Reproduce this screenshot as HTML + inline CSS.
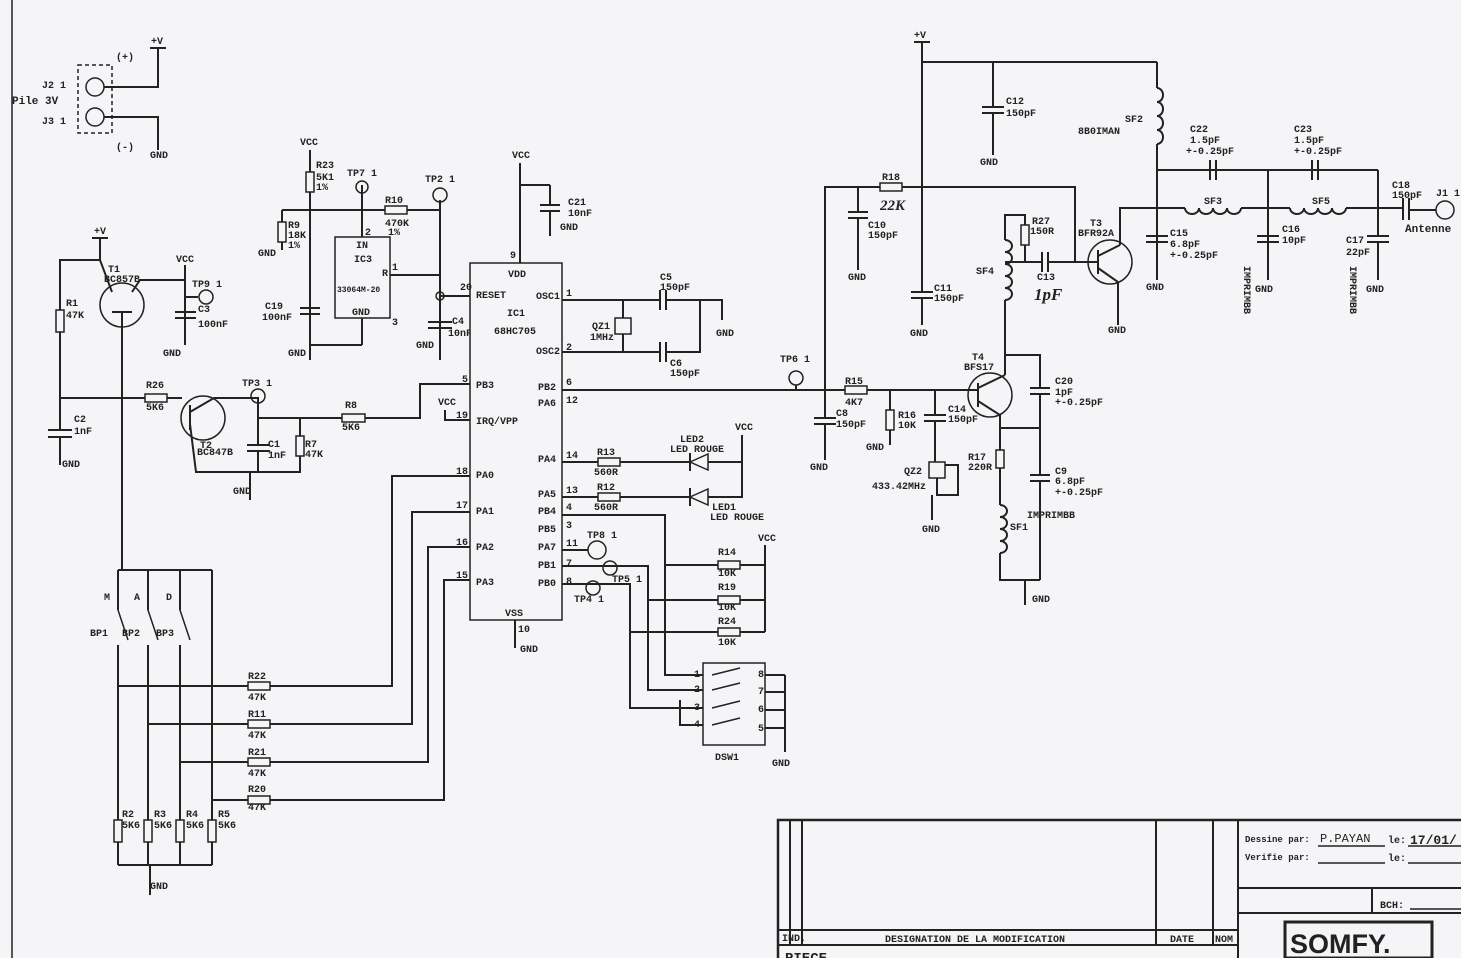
<!DOCTYPE html>
<html><head><meta charset="utf-8"><style>
html,body{margin:0;padding:0;background:#f5f5f7;}
svg{display:block}
text{font-family:"Liberation Mono",monospace;font-weight:bold;font-size:10px;fill:#222}
.l{stroke:#222;stroke-width:2;fill:none}
.t{stroke:#222;stroke-width:1.5;fill:none}
.f{fill:#f5f5f7;stroke:#222;stroke-width:1.5}
</style></head><body>
<svg width="1461" height="958" viewBox="0 0 1461 958" xmlns="http://www.w3.org/2000/svg">
<rect width="1461" height="958" fill="#f5f5f7"/>
<line class="t" x1="12" y1="0" x2="12" y2="958"/>

<!-- battery -->
<rect x="78" y="65" width="34" height="68" fill="none" stroke="#222" stroke-width="1.5" stroke-dasharray="4,3"/>
<circle class="t" cx="95" cy="87" r="9"/><circle class="t" cx="95" cy="117" r="9"/>
<polyline class="l" points="104,87 158,87 158,48"/><polyline class="l" points="104,117 158,117 158,150"/>
<line class="l" x1="150" y1="48" x2="166" y2="48"/>
<text x="151" y="44">+V</text><text x="116" y="60">(+)</text><text x="116" y="150">(-)</text>
<text x="42" y="88">J2 1</text><text x="12" y="104" style="font-size:11px">Pile 3V</text><text x="42" y="124">J3 1</text>
<text x="150" y="158">GND</text>

<!-- T1 area -->
<text x="94" y="234">+V</text><line class="l" x1="92" y1="238" x2="108" y2="238"/>
<polyline class="l" points="100,238 100,260 60,260 60,430"/>
<rect class="f" x="56" y="310" width="8" height="22"/><text x="66" y="306">R1</text><text x="66" y="318">47K</text>
<line class="l" x1="60" y1="398" x2="145" y2="398"/>
<rect class="f" x="145" y="394" width="22" height="8"/><text x="146" y="388">R26</text><text x="146" y="410">5K6</text>
<line class="l" x1="167" y1="398" x2="182" y2="398"/>
<line class="l" x1="48" y1="430" x2="72" y2="430"/><line class="l" x1="48" y1="437" x2="72" y2="437"/><line class="l" x1="60" y1="437" x2="60" y2="465"/>
<text x="74" y="422">C2</text><text x="74" y="434">1nF</text><text x="62" y="467">GND</text>
<circle class="t" cx="122" cy="305" r="22"/><text x="108" y="272">T1</text><text x="104" y="282">BC857B</text>
<polyline class="l" points="100,260 112,292"/><polyline class="l" points="132,292 140,280 185,280"/><line class="l" x1="112" y1="312" x2="132" y2="312"/>
<line class="l" x1="122" y1="312" x2="122" y2="570"/>
<text x="176" y="262">VCC</text><line class="l" x1="185" y1="265" x2="185" y2="345"/>
<line class="l" x1="185" y1="297" x2="198" y2="297"/><circle class="t" cx="206" cy="297" r="7"/><text x="192" y="287">TP9 1</text>
<line class="l" x1="175" y1="312" x2="196" y2="312"/><line class="l" x1="175" y1="318" x2="196" y2="318"/>
<text x="198" y="312">C3</text><text x="198" y="327">100nF</text><text x="163" y="356">GND</text>

<!-- T2 -->
<circle class="t" cx="203" cy="418" r="22"/><text x="200" y="448">T2</text><text x="197" y="455">BC847B</text>
<line class="l" x1="190" y1="405" x2="190" y2="430"/><polyline class="l" points="190,412 214,398 258,398 258,418 342,418"/>
<polyline class="l" points="190,424 196,472 300,472 300,455"/>
<circle class="t" cx="258" cy="396" r="7"/><text x="242" y="386">TP3 1</text>
<line class="l" x1="258" y1="418" x2="258" y2="445"/><line class="l" x1="247" y1="445" x2="270" y2="445"/><line class="l" x1="247" y1="451" x2="270" y2="451"/><line class="l" x1="258" y1="451" x2="258" y2="472"/>
<text x="268" y="447">C1</text><text x="268" y="458">1nF</text>
<line class="l" x1="300" y1="418" x2="300" y2="436"/><rect class="f" x="296" y="436" width="8" height="20"/><text x="305" y="447">R7</text><text x="305" y="457">47K</text>
<line class="l" x1="250" y1="472" x2="250" y2="500"/><text x="233" y="494">GND</text>
<rect class="f" x="342" y="414" width="23" height="8"/><text x="345" y="408">R8</text><text x="342" y="430">5K6</text>
<polyline class="l" points="365,418 420,418 420,384 470,384"/>

<!-- IC3 region -->
<text x="300" y="145">VCC</text><line class="l" x1="310" y1="150" x2="310" y2="360"/>
<rect class="f" x="306" y="172" width="8" height="20"/><text x="316" y="168">R23</text><text x="316" y="180">5K1</text><text x="316" y="190">1%</text>
<line class="l" x1="282" y1="210" x2="362" y2="210"/>
<line class="l" x1="282" y1="210" x2="282" y2="250"/><rect class="f" x="278" y="222" width="8" height="20"/><text x="288" y="228">R9</text><text x="288" y="238">18K</text><text x="288" y="248">1%</text>
<text x="258" y="256">GND</text>
<line class="l" x1="362" y1="185" x2="362" y2="237"/><circle class="t" cx="362" cy="187" r="6"/><text x="347" y="176">TP7 1</text>
<line class="l" x1="362" y1="210" x2="385" y2="210"/><rect class="f" x="385" y="206" width="22" height="8"/><text x="385" y="203">R10</text><text x="385" y="226">470K</text><text x="388" y="235">1%</text>
<line class="l" x1="407" y1="210" x2="440" y2="210"/>
<rect class="f" x="335" y="237" width="55" height="81"/>
<text x="356" y="248">IN</text><text x="354" y="262">IC3</text><text x="337" y="292" style="font-size:8px">33064M-20</text><text x="352" y="315">GND</text>
<text x="365" y="235">2</text><text x="392" y="270">1</text><text x="392" y="325">3</text>
<text x="382" y="276">R</text>
<polyline class="l" points="390,275 440,275"/>
<line class="l" x1="440" y1="200" x2="440" y2="360"/><circle class="t" cx="440" cy="195" r="7"/><text x="425" y="182">TP2 1</text>
<line class="l" x1="440" y1="296" x2="470" y2="296"/><circle class="t" cx="440" cy="296" r="4"/>
<line class="l" x1="428" y1="322" x2="452" y2="322"/><line class="l" x1="428" y1="328" x2="452" y2="328"/>
<text x="452" y="324">C4</text><text x="448" y="336">10nF</text><text x="416" y="348">GND</text>
<line class="l" x1="362" y1="318" x2="362" y2="345"/><line class="l" x1="310" y1="345" x2="362" y2="345"/>
<line class="l" x1="300" y1="308" x2="320" y2="308"/><line class="l" x1="300" y1="314" x2="320" y2="314"/>
<text x="265" y="309">C19</text><text x="262" y="320">100nF</text><text x="288" y="356">GND</text>

<!-- IC1 -->
<text x="512" y="158">VCC</text><line class="l" x1="520" y1="163" x2="520" y2="263"/>
<line class="l" x1="520" y1="185" x2="550" y2="185"/><line class="l" x1="550" y1="185" x2="550" y2="205"/>
<line class="l" x1="540" y1="205" x2="560" y2="205"/><line class="l" x1="540" y1="211" x2="560" y2="211"/><line class="l" x1="550" y1="211" x2="550" y2="236"/>
<text x="568" y="205">C21</text><text x="568" y="216">10nF</text><text x="560" y="230">GND</text>
<rect class="f" x="470" y="263" width="92" height="357"/>
<text x="510" y="258">9</text><text x="508" y="277">VDD</text><text x="507" y="316">IC1</text><text x="494" y="334">68HC705</text>
<text x="460" y="290">20</text><text x="476" y="298">RESET</text>
<text x="462" y="382">5</text><text x="476" y="388">PB3</text>
<text x="456" y="418">19</text><text x="476" y="424">IRQ/VPP</text>
<text x="438" y="405">VCC</text><polyline class="l" points="445,410 445,420 470,420"/>
<text x="456" y="474">18</text><text x="476" y="478">PA0</text>
<text x="456" y="508">17</text><text x="476" y="514">PA1</text>
<text x="456" y="545">16</text><text x="476" y="550">PA2</text>
<text x="456" y="578">15</text><text x="476" y="585">PA3</text>
<text x="505" y="616">VSS</text><text x="518" y="632">10</text>
<line class="l" x1="515" y1="620" x2="515" y2="648"/><text x="520" y="652">GND</text>
<text x="536" y="299">OSC1</text><text x="566" y="296">1</text>
<text x="536" y="354">OSC2</text><text x="566" y="350">2</text>
<text x="538" y="390">PB2</text><text x="566" y="385">6</text>
<text x="538" y="406">PA6</text><text x="566" y="403">12</text>
<text x="538" y="462">PA4</text><text x="566" y="458">14</text>
<text x="538" y="497">PA5</text><text x="566" y="493">13</text>
<text x="538" y="514">PB4</text><text x="566" y="510">4</text>
<text x="538" y="532">PB5</text><text x="566" y="528">3</text>
<text x="538" y="550">PA7</text><text x="566" y="546">11</text>
<text x="538" y="568">PB1</text><text x="566" y="566">7</text>
<text x="538" y="586">PB0</text><text x="566" y="584">8</text>
<!-- osc -->
<polyline class="l" points="562,300 660,300"/><polyline class="l" points="562,352 660,352"/>
<line class="l" x1="623" y1="300" x2="623" y2="318"/><rect class="f" x="615" y="318" width="16" height="16"/><line class="l" x1="623" y1="334" x2="623" y2="352"/>
<text x="592" y="329">QZ1</text><text x="590" y="340">1MHz</text>
<line class="l" x1="660" y1="290" x2="660" y2="310"/><line class="l" x1="666" y1="290" x2="666" y2="310"/>
<line class="l" x1="660" y1="342" x2="660" y2="362"/><line class="l" x1="666" y1="342" x2="666" y2="362"/>
<polyline class="l" points="666,300 722,300 722,320"/><polyline class="l" points="666,352 700,352 700,300"/>
<text x="660" y="280">C5</text><text x="660" y="290">150pF</text><text x="670" y="366">C6</text><text x="670" y="376">150pF</text><text x="716" y="336">GND</text>
<!-- PB2 line -->
<line class="l" x1="562" y1="390" x2="968" y2="390"/>
<!-- LEDs -->
<line class="l" x1="562" y1="462" x2="598" y2="462"/><rect class="f" x="598" y="458" width="22" height="8"/><line class="l" x1="620" y1="462" x2="690" y2="462"/>
<line class="l" x1="562" y1="497" x2="598" y2="497"/><rect class="f" x="598" y="493" width="22" height="8"/><line class="l" x1="620" y1="497" x2="690" y2="497"/>
<text x="597" y="455">R13</text><text x="594" y="475">560R</text><text x="597" y="490">R12</text><text x="594" y="510">560R</text>
<polygon class="f" points="690,462 708,454 708,470"/><line class="l" x1="690" y1="453" x2="690" y2="471"/>
<polygon class="f" points="690,497 708,489 708,505"/><line class="l" x1="690" y1="488" x2="690" y2="506"/>
<polyline class="l" points="708,462 742,462 742,435"/><polyline class="l" points="708,497 742,497 742,462"/>
<text x="735" y="430">VCC</text><text x="680" y="442">LED2</text><text x="670" y="452">LED ROUGE</text><text x="712" y="510">LED1</text><text x="710" y="520">LED ROUGE</text>
<!-- PB4, PB1, PB0 -->
<polyline class="l" points="562,515 665,515 665,565 718,565"/>
<circle class="t" cx="597" cy="550" r="9"/><text x="587" y="538">TP8 1</text><line class="l" x1="562" y1="550" x2="588" y2="550"/>
<polyline class="l" points="562,566 648,566 648,600 718,600"/><circle class="t" cx="610" cy="568" r="7"/><text x="612" y="582">TP5 1</text>
<polyline class="l" points="562,584 630,584 630,632 718,632"/><circle class="t" cx="593" cy="588" r="7"/><text x="574" y="602">TP4 1</text>
<rect class="f" x="718" y="561" width="22" height="8"/><rect class="f" x="718" y="596" width="22" height="8"/><rect class="f" x="718" y="628" width="22" height="8"/>
<text x="718" y="555">R14</text><text x="718" y="576">10K</text><text x="718" y="590">R19</text><text x="718" y="610">10K</text><text x="718" y="624">R24</text><text x="718" y="645">10K</text>
<polyline class="l" points="740,565 765,565"/><polyline class="l" points="740,600 765,600"/><polyline class="l" points="740,632 765,632"/>
<line class="l" x1="765" y1="545" x2="765" y2="632"/><text x="758" y="541">VCC</text>
<!-- DSW -->
<rect class="f" x="703" y="663" width="62" height="82"/>
<polyline class="l" points="665,565 665,675 703,675"/><polyline class="l" points="648,600 648,690 703,690"/><polyline class="l" points="630,632 630,708 703,708"/>
<text x="694" y="677">1</text><text x="694" y="692">2</text><text x="694" y="710">3</text><text x="694" y="727">4</text>
<text x="758" y="677">8</text><text x="758" y="694">7</text><text x="758" y="712">6</text><text x="758" y="731">5</text>
<polyline class="l" points="703,725 680,725 680,700"/>
<polyline class="t" points="712,675 740,668"/><polyline class="t" points="712,690 740,683"/><polyline class="t" points="712,708 740,701"/><polyline class="t" points="712,725 740,718"/>
<line class="l" x1="765" y1="675" x2="785" y2="675"/><line class="l" x1="765" y1="692" x2="785" y2="692"/><line class="l" x1="765" y1="710" x2="785" y2="710"/><line class="l" x1="765" y1="728" x2="785" y2="728"/>
<line class="l" x1="785" y1="675" x2="785" y2="752"/><text x="715" y="760">DSW1</text><text x="772" y="766">GND</text>

<!-- switches + resistors left -->
<line class="l" x1="118" y1="570" x2="212" y2="570"/>
<line class="l" x1="118" y1="570" x2="118" y2="610"/><line class="l" x1="148" y1="570" x2="148" y2="610"/><line class="l" x1="180" y1="570" x2="180" y2="610"/>
<line class="t" x1="118" y1="610" x2="128" y2="640"/><line class="t" x1="148" y1="610" x2="158" y2="640"/><line class="t" x1="180" y1="610" x2="190" y2="640"/>
<text x="104" y="600">M</text><text x="134" y="600">A</text><text x="166" y="600">D</text>
<text x="90" y="636">BP1</text><text x="122" y="636">BP2</text><text x="156" y="636">BP3</text>
<line class="l" x1="118" y1="645" x2="118" y2="820"/><line class="l" x1="148" y1="645" x2="148" y2="820"/><line class="l" x1="180" y1="645" x2="180" y2="820"/><line class="l" x1="212" y1="570" x2="212" y2="820"/>
<rect class="f" x="114" y="820" width="8" height="22"/><rect class="f" x="144" y="820" width="8" height="22"/><rect class="f" x="176" y="820" width="8" height="22"/><rect class="f" x="208" y="820" width="8" height="22"/>
<text x="122" y="817">R2</text><text x="122" y="828">5K6</text><text x="154" y="817">R3</text><text x="154" y="828">5K6</text><text x="186" y="817">R4</text><text x="186" y="828">5K6</text><text x="218" y="817">R5</text><text x="218" y="828">5K6</text>
<line class="l" x1="118" y1="842" x2="118" y2="865"/><line class="l" x1="148" y1="842" x2="148" y2="865"/><line class="l" x1="180" y1="842" x2="180" y2="865"/><line class="l" x1="212" y1="842" x2="212" y2="865"/>
<line class="l" x1="118" y1="865" x2="212" y2="865"/><line class="l" x1="150" y1="865" x2="150" y2="895"/><text x="150" y="889">GND</text>
<polyline class="l" points="118,686 248,686"/><rect class="f" x="248" y="682" width="22" height="8"/><polyline class="l" points="270,686 392,686 392,476 470,476"/>
<polyline class="l" points="148,724 248,724"/><rect class="f" x="248" y="720" width="22" height="8"/><polyline class="l" points="270,724 412,724 412,512 470,512"/>
<polyline class="l" points="180,762 248,762"/><rect class="f" x="248" y="758" width="22" height="8"/><polyline class="l" points="270,762 428,762 428,547 470,547"/>
<polyline class="l" points="212,800 248,800"/><rect class="f" x="248" y="796" width="22" height="8"/><polyline class="l" points="270,800 444,800 444,580 470,580"/>
<text x="248" y="679">R22</text><text x="248" y="700">47K</text><text x="248" y="717">R11</text><text x="248" y="738">47K</text><text x="248" y="755">R21</text><text x="248" y="776">47K</text><text x="248" y="792">R20</text><text x="248" y="810">47K</text>

<!-- RF section -->
<text x="914" y="38">+V</text><line class="l" x1="914" y1="42" x2="930" y2="42"/>
<line class="l" x1="922" y1="42" x2="922" y2="292"/>
<line class="l" x1="922" y1="62" x2="1157" y2="62"/>
<line class="l" x1="993" y1="62" x2="993" y2="107"/><line class="l" x1="982" y1="107" x2="1004" y2="107"/><line class="l" x1="982" y1="113" x2="1004" y2="113"/><line class="l" x1="993" y1="113" x2="993" y2="155"/>
<text x="1006" y="104">C12</text><text x="1006" y="116">150pF</text><text x="980" y="165">GND</text>
<line class="l" x1="1157" y1="62" x2="1157" y2="88"/>
<path class="l" d="M1157 88 a6 7 0 0 1 0 14 a6 7 0 0 1 0 14 a6 7 0 0 1 0 14 a6 7 0 0 1 0 14"/>
<line class="l" x1="1157" y1="144" x2="1157" y2="280"/>
<text x="1125" y="122">SF2</text><text x="1078" y="134">8B0IMAN</text>
<line class="l" x1="1157" y1="170" x2="1378" y2="170"/>
<line class="l" x1="1210" y1="160" x2="1210" y2="180"/><line class="l" x1="1216" y1="160" x2="1216" y2="180"/>
<line class="l" x1="1312" y1="160" x2="1312" y2="180"/><line class="l" x1="1318" y1="160" x2="1318" y2="180"/>
<text x="1190" y="132">C22</text><text x="1190" y="143">1.5pF</text><text x="1186" y="154">+-0.25pF</text>
<text x="1294" y="132">C23</text><text x="1294" y="143">1.5pF</text><text x="1294" y="154">+-0.25pF</text>
<polyline class="l" points="1120,245 1120,208 1185,208"/>
<path class="l" d="M1185 208 a7 6 0 0 0 14 0 a7 6 0 0 0 14 0 a7 6 0 0 0 14 0 a7 6 0 0 0 14 0"/>
<line class="l" x1="1241" y1="208" x2="1290" y2="208"/>
<path class="l" d="M1290 208 a7 6 0 0 0 14 0 a7 6 0 0 0 14 0 a7 6 0 0 0 14 0 a7 6 0 0 0 14 0"/>
<line class="l" x1="1346" y1="208" x2="1403" y2="208"/>
<line class="l" x1="1403" y1="198" x2="1403" y2="220"/><line class="l" x1="1409" y1="198" x2="1409" y2="220"/><line class="l" x1="1409" y1="210" x2="1436" y2="210"/>
<circle class="t" cx="1445" cy="210" r="9"/>
<text x="1204" y="204">SF3</text><text x="1312" y="204">SF5</text>
<text x="1392" y="188">C18</text><text x="1392" y="198">150pF</text><text x="1436" y="196">J1 1</text><text x="1405" y="232" style="font-size:11px">Antenne</text>
<line class="l" x1="1268" y1="170" x2="1268" y2="280"/><line class="l" x1="1378" y1="170" x2="1378" y2="235"/>
<line class="l" x1="1146" y1="236" x2="1168" y2="236"/><line class="l" x1="1146" y1="242" x2="1168" y2="242"/>
<line class="l" x1="1257" y1="236" x2="1279" y2="236"/><line class="l" x1="1257" y1="242" x2="1279" y2="242"/>
<line class="l" x1="1367" y1="236" x2="1389" y2="236"/><line class="l" x1="1367" y1="242" x2="1389" y2="242"/><line class="l" x1="1378" y1="242" x2="1378" y2="280"/>
<text x="1170" y="236">C15</text><text x="1170" y="247">6.8pF</text><text x="1170" y="258">+-0.25pF</text>
<text x="1282" y="232">C16</text><text x="1282" y="243">10pF</text><text x="1346" y="243">C17</text><text x="1346" y="255">22pF</text>
<text x="1146" y="290">GND</text><text x="1255" y="292">GND</text><text x="1366" y="292">GND</text>
<text x="1232" y="238" transform="rotate(90 1224 258)">IMPRIMBB</text><text x="1338" y="238" transform="rotate(90 1330 258)">IMPRIMBB</text>
<!-- T3 -->
<circle class="t" cx="1110" cy="262" r="22"/><text x="1090" y="226">T3</text><text x="1078" y="236">BFR92A</text>
<line class="l" x1="1098" y1="250" x2="1098" y2="274"/><line class="l" x1="1075" y1="262" x2="1098" y2="262"/>
<polyline class="l" points="1098,256 1120,245"/><polyline class="l" points="1098,268 1118,282 1118,325"/><text x="1108" y="333">GND</text>
<polyline class="l" points="825,390 825,187 880,187"/><rect class="f" x="880" y="183" width="22" height="8"/><polyline class="l" points="902,187 1075,187 1075,262"/>
<text x="882" y="180">R18</text><text x="880" y="210" style="font-size:15px;font-family:'Liberation Serif',serif;font-style:italic">22K</text>
<line class="l" x1="858" y1="187" x2="858" y2="212"/><line class="l" x1="848" y1="212" x2="868" y2="212"/><line class="l" x1="848" y1="218" x2="868" y2="218"/><line class="l" x1="858" y1="218" x2="858" y2="270"/>
<text x="868" y="228">C10</text><text x="868" y="238">150pF</text><text x="848" y="280">GND</text>
<line class="l" x1="911" y1="292" x2="933" y2="292"/><line class="l" x1="911" y1="298" x2="933" y2="298"/><line class="l" x1="922" y1="298" x2="922" y2="325"/>
<text x="934" y="291">C11</text><text x="934" y="301">150pF</text><text x="910" y="336">GND</text>
<polyline class="l" points="1005,240 1005,215 1025,215 1025,225"/><rect class="f" x="1021" y="225" width="8" height="20"/><polyline class="l" points="1025,245 1025,262"/>
<text x="1032" y="224">R27</text><text x="1030" y="234">150R</text>
<path class="l" d="M1005 240 a7 6 0 0 1 0 12 a7 6 0 0 1 0 12 a7 6 0 0 1 0 12 a7 6 0 0 1 0 12 a7 6 0 0 1 0 12"/>
<text x="976" y="274">SF4</text>
<line class="l" x1="1005" y1="262" x2="1042" y2="262"/><line class="l" x1="1042" y1="252" x2="1042" y2="272"/><line class="l" x1="1048" y1="252" x2="1048" y2="272"/><line class="l" x1="1048" y1="262" x2="1075" y2="262"/>
<text x="1037" y="280">C13</text><text x="1034" y="300" style="font-size:17px;font-family:'Liberation Serif',serif;font-style:italic">1pF</text>
<line class="l" x1="1005" y1="300" x2="1005" y2="375"/>
<!-- T4 -->
<circle class="t" cx="990" cy="395" r="22"/><text x="972" y="360">T4</text><text x="964" y="370">BFS17</text>
<line class="l" x1="978" y1="383" x2="978" y2="407"/><line class="l" x1="968" y1="390" x2="978" y2="390"/>
<polyline class="l" points="978,388 1005,375"/><polyline class="l" points="978,401 1000,415 1000,450"/>
<polyline class="l" points="1005,355 1040,355 1040,388"/><line class="l" x1="1030" y1="388" x2="1050" y2="388"/><line class="l" x1="1030" y1="394" x2="1050" y2="394"/><line class="l" x1="1040" y1="394" x2="1040" y2="475"/>
<text x="1055" y="384">C20</text><text x="1055" y="395">1pF</text><text x="1055" y="405">+-0.25pF</text>
<line class="l" x1="1000" y1="428" x2="1040" y2="428"/>
<rect class="f" x="996" y="450" width="8" height="18"/><text x="968" y="460">R17</text><text x="968" y="470">220R</text>
<line class="l" x1="1030" y1="475" x2="1050" y2="475"/><line class="l" x1="1030" y1="481" x2="1050" y2="481"/><line class="l" x1="1040" y1="481" x2="1040" y2="580"/>
<text x="1055" y="474">C9</text><text x="1055" y="484">6.8pF</text><text x="1055" y="495">+-0.25pF</text><text x="1027" y="518">IMPRIMBB</text>
<line class="l" x1="1000" y1="468" x2="1000" y2="505"/>
<path class="l" d="M1000 505 a7 6 0 0 1 0 12 a7 6 0 0 1 0 12 a7 6 0 0 1 0 12 a7 6 0 0 1 0 12"/>
<text x="1010" y="530">SF1</text>
<polyline class="l" points="1000,553 1000,580 1040,580"/><line class="l" x1="1025" y1="580" x2="1025" y2="605"/><text x="1032" y="602">GND</text>
<line class="l" x1="845" y1="386" x2="845" y2="386"/><rect class="f" x="845" y="386" width="22" height="8"/>
<text x="845" y="384">R15</text><text x="845" y="405">4K7</text>
<line class="l" x1="825" y1="390" x2="825" y2="418"/><line class="l" x1="814" y1="418" x2="836" y2="418"/><line class="l" x1="814" y1="424" x2="836" y2="424"/><line class="l" x1="825" y1="424" x2="825" y2="460"/>
<text x="836" y="416">C8</text><text x="836" y="427">150pF</text><text x="810" y="470">GND</text>
<line class="l" x1="890" y1="390" x2="890" y2="410"/><rect class="f" x="886" y="410" width="8" height="20"/><line class="l" x1="890" y1="430" x2="890" y2="445"/>
<text x="898" y="418">R16</text><text x="898" y="428">10K</text><text x="866" y="450">GND</text>
<line class="l" x1="935" y1="390" x2="935" y2="415"/><line class="l" x1="924" y1="415" x2="946" y2="415"/><line class="l" x1="924" y1="421" x2="946" y2="421"/><line class="l" x1="935" y1="421" x2="935" y2="462"/>
<text x="948" y="412">C14</text><text x="948" y="422">150pF</text>
<rect class="f" x="929" y="462" width="16" height="16"/><polyline class="l" points="937,478 937,495 958,495 958,465 945,465"/>
<line class="l" x1="932" y1="495" x2="932" y2="520"/>
<text x="904" y="474">QZ2</text><text x="872" y="489">433.42MHz</text><text x="922" y="532">GND</text>
<circle class="t" cx="796" cy="378" r="7"/><text x="780" y="362">TP6 1</text><line class="l" x1="796" y1="385" x2="796" y2="390"/>

<!-- title block -->
<rect x="778" y="820" width="690" height="145" fill="none" stroke="#222" stroke-width="2.5"/>
<line class="l" x1="790" y1="820" x2="790" y2="945"/><line class="l" x1="802" y1="820" x2="802" y2="945"/>
<line class="l" x1="1156" y1="820" x2="1156" y2="945"/><line class="l" x1="1213" y1="820" x2="1213" y2="945"/><line class="l" x1="1238" y1="820" x2="1238" y2="958"/>
<line class="l" x1="778" y1="930" x2="1238" y2="930"/><line class="l" x1="778" y1="945" x2="1238" y2="945"/>
<line class="l" x1="1238" y1="888" x2="1461" y2="888"/><line class="l" x1="1238" y1="913" x2="1461" y2="913"/><line class="l" x1="1372" y1="888" x2="1372" y2="913"/>
<text x="782" y="941">IND.</text><text x="885" y="942">DESIGNATION DE LA MODIFICATION</text><text x="1170" y="942">DATE</text><text x="1215" y="942">NOM</text>
<text x="1245" y="842" style="font-size:9px">Dessine par:</text><text x="1320" y="842" style="font-size:12px;font-weight:normal">P.PAYAN</text><text x="1388" y="843">le:</text><text x="1410" y="844" style="font-size:13px">17/01/</text>
<line class="t" x1="1318" y1="846" x2="1385" y2="846"/><line class="t" x1="1408" y1="846" x2="1461" y2="846"/>
<text x="1245" y="860" style="font-size:9px">Verifie par:</text><text x="1388" y="861">le:</text>
<line class="t" x1="1318" y1="863" x2="1385" y2="863"/><line class="t" x1="1408" y1="863" x2="1461" y2="863"/>
<text x="1380" y="908">BCH:</text><line class="t" x1="1410" y1="909" x2="1461" y2="909"/>
<rect x="1285" y="922" width="147" height="36" fill="none" stroke="#222" stroke-width="3"/>
<text x="1290" y="953" style="font-size:27px;font-family:'Liberation Sans',sans-serif">SOMFY.</text>
<text x="785" y="962" style="font-size:14px">PIECE</text>
</svg>
</body></html>
